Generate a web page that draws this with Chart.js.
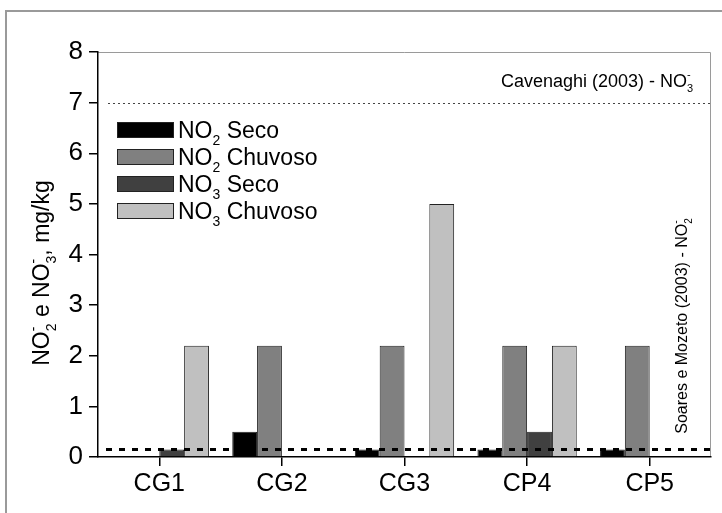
<!DOCTYPE html>
<html>
<head>
<meta charset="utf-8">
<script src="https://cdn.jsdelivr.net/npm/chart.js@4.4.1/dist/chart.umd.min.js"></script>
<style>
  html, body { margin: 0; padding: 0; background: #fff; }
  #wrap { width: 722px; height: 513px; }
</style>
</head>
<body>
<div id="wrap"><canvas id="c" width="722" height="513"></canvas></div>
<script>
// Sampling points
const categories = ['CG1', 'CG2', 'CG3', 'CP4', 'CP5'];

// Concentrations in mg/kg (null = not detected / not plotted)
const no2Seco    = [null, 0.5, 0.15, 0.15, 0.15];
const no2Chuvoso = [null, 2.2, 2.2, 2.2, 2.2];
const no3Seco    = [0.15, null, null, 0.5, null];
const no3Chuvoso = [2.2, null, 5.0, 2.2, null];

// Y axis ticks
const yTicks = [0, 1, 2, 3, 4, 5, 6, 7, 8];

// Reference limits
const cavenaghiNO3 = 7;        // Cavenaghi (2003) - NO3-
const soaresMozetoNO2 = 0.15;  // Soares e Mozeto (2003) - NO2-

const FONT = '"Liberation Sans", Arial, Helvetica, sans-serif';

// Text with chemical sub/superscripts: segments are {t} or {sub, sup}
function richWidth(ctx, segs, size) {
  let w = 0;
  for (const s of segs) {
    if (s.t !== undefined) {
      ctx.font = size + 'px ' + FONT;
      w += ctx.measureText(s.t).width;
    } else {
      ctx.font = Math.round(size * 0.62) + 'px ' + FONT;
      let a = s.sub ? ctx.measureText(s.sub).width : 0;
      let b = s.sup ? ctx.measureText(s.sup).width : 0;
      w += Math.max(a, b);
    }
  }
  return w;
}
function drawRich(ctx, segs, x, y, size) {
  let cx = x;
  ctx.textBaseline = 'alphabetic';
  ctx.textAlign = 'left';
  for (const s of segs) {
    if (s.t !== undefined) {
      ctx.font = size + 'px ' + FONT;
      ctx.fillText(s.t, cx, y);
      cx += ctx.measureText(s.t).width;
    } else {
      ctx.font = Math.round(size * 0.62) + 'px ' + FONT;
      let w = 0;
      if (s.sub) {
        ctx.fillText(s.sub, cx, y + size * 0.3);
        w = Math.max(w, ctx.measureText(s.sub).width);
      }
      if (s.sup) {
        ctx.fillText(s.sup, cx, y - size * 0.5);
        w = Math.max(w, ctx.measureText(s.sup).width);
      }
      cx += w;
    }
  }
}

const yTitle = [{t: 'NO'}, {sub: '2', sup: '-'}, {t: ' e NO'}, {sub: '3', sup: '-'}, {t: ', mg/kg'}];
const cavLabel = [{t: 'Cavenaghi (2003) - NO'}, {sub: '3', sup: '-'}];
const soaLabel = [{t: 'Soares e Mozeto (2003) - NO'}, {sub: '2', sup: '-'}];

const seriesInfo = [
  {label: [{t: 'NO'}, {sub: '2'}, {t: ' Seco'}],    data: no2Seco,    color: '#000000'},
  {label: [{t: 'NO'}, {sub: '2'}, {t: ' Chuvoso'}], data: no2Chuvoso, color: '#808080'},
  {label: [{t: 'NO'}, {sub: '3'}, {t: ' Seco'}],    data: no3Seco,    color: '#404040'},
  {label: [{t: 'NO'}, {sub: '3'}, {t: ' Chuvoso'}], data: no3Chuvoso, color: '#c0c0c0'}
];

const decorations = {
  id: 'decorations',
  beforeDraw(chart) {
    const ctx = chart.ctx;
    ctx.save();
    // figure frame
    ctx.strokeStyle = '#9a9a9a';
    ctx.lineWidth = 2;
    ctx.beginPath();
    ctx.moveTo(6, 513);
    ctx.lineTo(6, 11);
    ctx.lineTo(722, 11);
    ctx.stroke();
    // plot box top/right edges
    const a = chart.chartArea;
    ctx.strokeStyle = '#9a9a9a';
    ctx.lineWidth = 1;
    ctx.beginPath();
    ctx.moveTo(a.left, a.top + 0.5);
    ctx.lineTo(a.right - 0.5, a.top + 0.5);
    ctx.lineTo(a.right - 0.5, a.bottom);
    ctx.stroke();
    ctx.restore();
  },
  afterDatasetsDraw(chart) {
    const ctx = chart.ctx;
    const a = chart.chartArea;
    const y = chart.scales.y;
    ctx.save();
    // Cavenaghi limit
    const y7 = Math.round(y.getPixelForValue(cavenaghiNO3)) + 0.5;
    ctx.strokeStyle = '#444';
    ctx.lineWidth = 1;
    ctx.setLineDash([2, 3]);
    ctx.beginPath();
    ctx.moveTo(a.left + 10, y7);
    ctx.lineTo(a.right, y7);
    ctx.stroke();
    // Soares e Mozeto limit
    const ys = y.getPixelForValue(soaresMozetoNO2);
    ctx.strokeStyle = '#000';
    ctx.lineWidth = 3;
    ctx.setLineDash([6, 7]);
    ctx.beginPath();
    ctx.moveTo(a.left + 8, ys);
    ctx.lineTo(a.right, ys);
    ctx.stroke();
    ctx.setLineDash([]);

    ctx.fillStyle = '#000';
    // limit labels
    const cs = 18;
    const cw = richWidth(ctx, cavLabel, cs);
    drawRich(ctx, cavLabel, 597 - cw / 2, y7 - 17, cs);

    const ss = 16;
    const sw = richWidth(ctx, soaLabel, ss);
    ctx.save();
    ctx.translate(a.right - 24, 326 + sw / 2);
    ctx.rotate(-Math.PI / 2);
    drawRich(ctx, soaLabel, 0, 0, ss);
    ctx.restore();

    // y axis title
    const ts = 23;
    const tw = richWidth(ctx, yTitle, ts);
    ctx.save();
    ctx.translate(49, 273 + tw / 2);
    ctx.rotate(-Math.PI / 2);
    drawRich(ctx, yTitle, 0, 0, ts);
    ctx.restore();

    // legend
    const lx = 117, bw = 57, bh = 16;
    const rowTops = [122, 149, 176, 203];
    seriesInfo.forEach((s, i) => {
      const top = rowTops[i];
      ctx.fillStyle = s.color;
      ctx.fillRect(lx, top, bw, bh);
      ctx.strokeStyle = '#222';
      ctx.lineWidth = 1;
      ctx.strokeRect(lx + 0.5, top + 0.5, bw - 1, bh - 1);
      ctx.fillStyle = '#000';
      drawRich(ctx, s.label, lx + bw + 4, top + bh, 23);
    });
    ctx.restore();
  }
};

new Chart(document.getElementById('c'), {
  type: 'bar',
  data: {
    labels: categories,
    datasets: seriesInfo.map(s => ({
      label: s.label.map(p => p.t || p.sub).join(''),
      data: s.data,
      backgroundColor: s.color,
      borderColor: '#222',
      borderWidth: 1,
      categoryPercentage: 0.81,
      barPercentage: 1.0
    }))
  },
  options: {
    responsive: false,
    animation: false,
    events: [],
    layout: {padding: {top: 52, right: 11, left: 0, bottom: 0}},
    plugins: {legend: {display: false}, tooltip: {enabled: false}},
    scales: {
      x: {
        grid: {offset: false, drawOnChartArea: false, drawTicks: true, tickLength: 9, color: '#000', lineWidth: 1.5},
        border: {display: true, color: '#000', width: 1.5},
        ticks: {color: '#000', font: {family: FONT, size: 25}, padding: 3, maxRotation: 0},
        afterFit(s) { s.height = 56; }
      },
      y: {
        min: 0, max: 8,
        afterBuildTicks(s) { s.ticks = yTicks.map(v => ({value: v})); },
        grid: {drawOnChartArea: false, drawTicks: true, tickLength: 9, color: '#000', lineWidth: 1.5},
        border: {display: true, color: '#000', width: 1.5},
        ticks: {color: '#000', font: {family: FONT, size: 26}, padding: 6},
        afterFit(s) { s.width = 98; }
      }
    }
  },
  plugins: [decorations]
});
</script>
</body>
</html>
